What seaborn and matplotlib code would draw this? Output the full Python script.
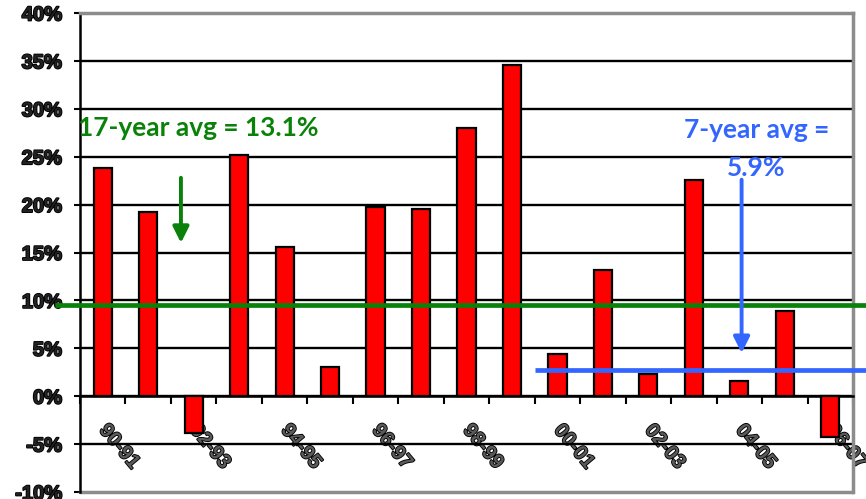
import numpy as np
import pandas as pd
import matplotlib.pyplot as plt
import matplotlib.patheffects as pe
import seaborn as sns
from matplotlib.ticker import FuncFormatter

# ==============================
# Data
# ==============================

years = ["90-91", "91-92", "92-93", "93-94", "94-95", "95-96", "96-97", "97-98",
         "98-99", "99-00", "00-01", "01-02", "02-03", "03-04", "04-05", "05-06", "06-07"]
returns = [23.8, 19.2, -3.8, 25.2, 15.6, 3.1, 19.8, 19.5,
           28.0, 34.6, 4.4, 13.2, 2.3, 22.6, 1.6, 8.9, -4.3]

long_avg_label = "17-year avg = 13.1%"
long_avg_level = 9.5
short_avg_label = "7-year avg =\n5.9%"
short_avg_level = 2.7

df = pd.DataFrame({"year": years, "ret": returns})

GREEN = "#0a820a"
BLUE = "#3366ff"

# ==============================
# Plot
# ==============================

sns.set_style("white")
plt.rcParams["font.family"] = ["Liberation Sans", "DejaVu Sans"]

fig = plt.figure(figsize=(8.66, 4.99), dpi=100)
ax = fig.add_axes([80 / 866, 1 - 492 / 499, (853 - 80) / 866, (492 - 13) / 499])

sns.barplot(data=df, x="year", y="ret", color="red", saturation=1,
            edgecolor="black", linewidth=1.6, width=0.4, ax=ax, zorder=3)

ax.set_xlim(-0.5, len(years) - 0.5)
ax.set_ylim(-10, 40)
ax.set_xlabel("")
ax.set_ylabel("")

# horizontal grid (black), frame lines in gray
for v in range(-5, 40, 5):
    ax.axhline(v, color="black", lw=1.7, zorder=1)
ax.axhline(-10, color="#8c8c8c", lw=2.5, zorder=1, clip_on=False)

for s in ["top", "right"]:
    ax.spines[s].set_color("#8c8c8c")
    ax.spines[s].set_linewidth(2.5)
ax.spines["left"].set_color("black")
ax.spines["left"].set_linewidth(1.8)
ax.spines["bottom"].set_position(("data", 0))
ax.spines["bottom"].set_color("black")
ax.spines["bottom"].set_linewidth(1.8)

halo = [pe.withStroke(linewidth=1.3, foreground="black")]

ax.set_yticks(range(-10, 45, 5))
ax.yaxis.set_major_formatter(FuncFormatter(lambda v, p: f"{v:.0f}%"))
ax.tick_params(axis="y", left=True, length=4, width=1.5, pad=9,
               labelsize=14.5, color="black", labelcolor="#222222")
for t in ax.get_yticklabels():
    t.set_fontweight("bold")
    t.set_path_effects(halo)

# category boundaries as major ticks, labels on every other category as minor ticks
ax.set_xticks(np.arange(len(years) + 1) - 0.5)
ax.set_xticklabels([])
ax.tick_params(axis="x", which="major", bottom=True, length=6, width=1.5,
               direction="out", color="black")
ax.set_xticks(np.arange(0, len(years), 2), years[::2], minor=True)
ax.tick_params(axis="x", which="minor", bottom=True, length=0, pad=22,
               labelsize=14.5, labelcolor="#5a5a5a")
for t in ax.get_xticklabels(minor=True):
    t.set_rotation(-50)
    t.set_rotation_mode("anchor")
    t.set_ha("left")
    t.set_va("center")
    t.set_fontweight("bold")
    t.set_path_effects(halo)

# average lines (run past the plot edge)
ax.plot([-1.05, 16.8], [long_avg_level, long_avg_level], color=GREEN, lw=3.4,
        zorder=4, clip_on=False, solid_capstyle="butt")
ax.plot([9.5, 16.8], [short_avg_level, short_avg_level], color=BLUE, lw=3.4,
        zorder=4, clip_on=False, solid_capstyle="butt")

# annotations
ax.text(-0.55, 28.0, long_avg_label, color=GREEN, fontsize=19, fontweight="bold",
        family=["Lato", "DejaVu Sans"], ha="left", va="center", zorder=5)
ax.text(14.37, 25.8, short_avg_label, color=BLUE, fontsize=19, fontweight="bold",
        family=["Lato", "DejaVu Sans"], ha="center", va="center",
        linespacing=1.7, zorder=5)

ax.annotate("", xy=(1.72, 16.0), xytext=(1.72, 22.8),
            arrowprops=dict(arrowstyle="-|>", color=GREEN, lw=2.8,
                            mutation_scale=24, shrinkA=0, shrinkB=0), zorder=5)
ax.annotate("", xy=(14.05, 4.5), xytext=(14.05, 22.6),
            arrowprops=dict(arrowstyle="-|>", color=BLUE, lw=2.8,
                            mutation_scale=24, shrinkA=0, shrinkB=0), zorder=5)

fig.savefig("out.png", dpi=100)
